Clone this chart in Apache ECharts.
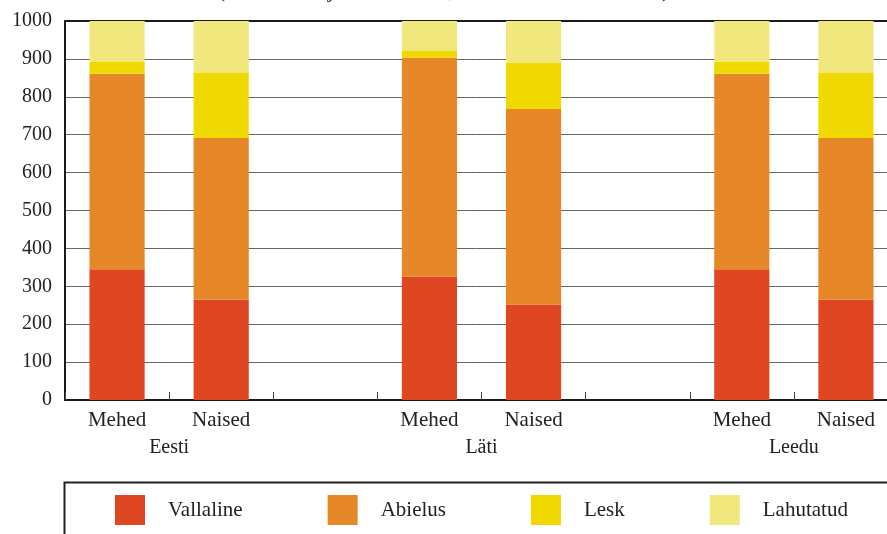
<!DOCTYPE html>
<html>
<head>
<meta charset="utf-8">
<script src="https://cdn.jsdelivr.net/npm/echarts@6/dist/echarts.min.js"></script>
<style>
html,body{margin:0;padding:0;background:#fff;}
#chart{width:887px;height:534px;}
</style>
</head>
<body>
<div id="chart"></div>
<script>
const categories = ['Mehed', 'Naised', '', 'Mehed', 'Naised', '', 'Mehed', 'Naised'];
const countries = ['', 'Eesti', '', '', 'Läti', '', '', 'Leedu', ''];
const seriesNames = ['Vallaline', 'Abielus', 'Lesk', 'Lahutatud'];
const vallaline = [345, 265, null, 326, 252, null, 345, 265];
const abielus = [516, 426, null, 577, 516, null, 516, 426];
const lesk = [31, 172, null, 18, 121, null, 31, 172];
const lahutatud = [108, 137, null, 79, 111, null, 108, 137];
const yTicks = [0, 100, 200, 300, 400, 500, 600, 700, 800, 900, 1000];
const titleText = '(1000 mehe ja naise kohta, rahvaloenduse andmed)';

const colors = ['#DF4622', '#E78828', '#F0D900', '#F0E87D'];
const FONT = "'Liberation Serif', 'Times New Roman', serif";
const values = [vallaline, abielus, lesk, lahutatud];

const chart = echarts.init(document.getElementById('chart'), null, {renderer: 'canvas'});
chart.setOption({
  animation: false,
  backgroundColor: '#fff',
  title: {
    text: titleText,
    left: 'center',
    top: -20,
    padding: 0,
    textStyle: {fontFamily: FONT, fontSize: 22, fontWeight: 'normal', color: '#222'}
  },
  grid: {left: 65, top: 21, height: 379, width: 833, containLabel: false, outerBoundsMode: 'none'},
  graphic: [{
    type: 'rect', left: 62, top: 480, z: 0,
    shape: {width: 900, height: 80},
    style: {fill: 'none', stroke: '#222', lineWidth: 2}
  }],
  legend: {
    left: 63, top: 481,
    orient: 'horizontal',
    data: seriesNames,
    icon: 'rect',
    itemWidth: 30, itemHeight: 30, itemGap: 85,
    padding: [14, 0, 20, 52],
    textStyle: {fontFamily: FONT, fontSize: 21, color: '#222', padding: [0, 0, 0, 18]}
  },
  xAxis: [
    {
      type: 'category', data: categories, position: 'bottom',
      axisLine: {show: true, lineStyle: {color: '#1a1a1a', width: 2}},
      axisTick: {show: true, inside: true, length: 8, lineStyle: {color: '#444', width: 1}},
      axisLabel: {interval: 0, margin: 10, fontFamily: FONT, fontSize: 21, color: '#222'},
      splitLine: {show: false}
    },
    {
      type: 'category', data: countries, position: 'bottom', boundaryGap: false, offset: 28,
      axisLine: {show: false}, axisTick: {show: false},
      axisLabel: {interval: 0, margin: 10, fontFamily: FONT, fontSize: 20, color: '#222'},
      splitLine: {show: false}
    },
    {
      type: 'category', data: categories, position: 'top',
      axisLine: {show: true, lineStyle: {color: '#1a1a1a', width: 2}},
      axisTick: {show: false}, axisLabel: {show: false}, splitLine: {show: false}
    }
  ],
  yAxis: {
    type: 'value', min: yTicks[0], max: yTicks[yTicks.length - 1], interval: 100,
    axisLine: {show: true, lineStyle: {color: '#1a1a1a', width: 2}},
    axisTick: {show: false},
    axisLabel: {margin: 13, fontFamily: FONT, fontSize: 20, color: '#222', formatter: v => String(v)},
    splitLine: {show: true, lineStyle: {color: '#666', width: 1}}
  },
  series: seriesNames.map((name, i) => ({
    name: name,
    type: 'bar',
    stack: 'total',
    barWidth: '53%',
    xAxisIndex: 0,
    itemStyle: {color: colors[i]},
    data: values[i]
  }))
});
</script>
</body>
</html>
